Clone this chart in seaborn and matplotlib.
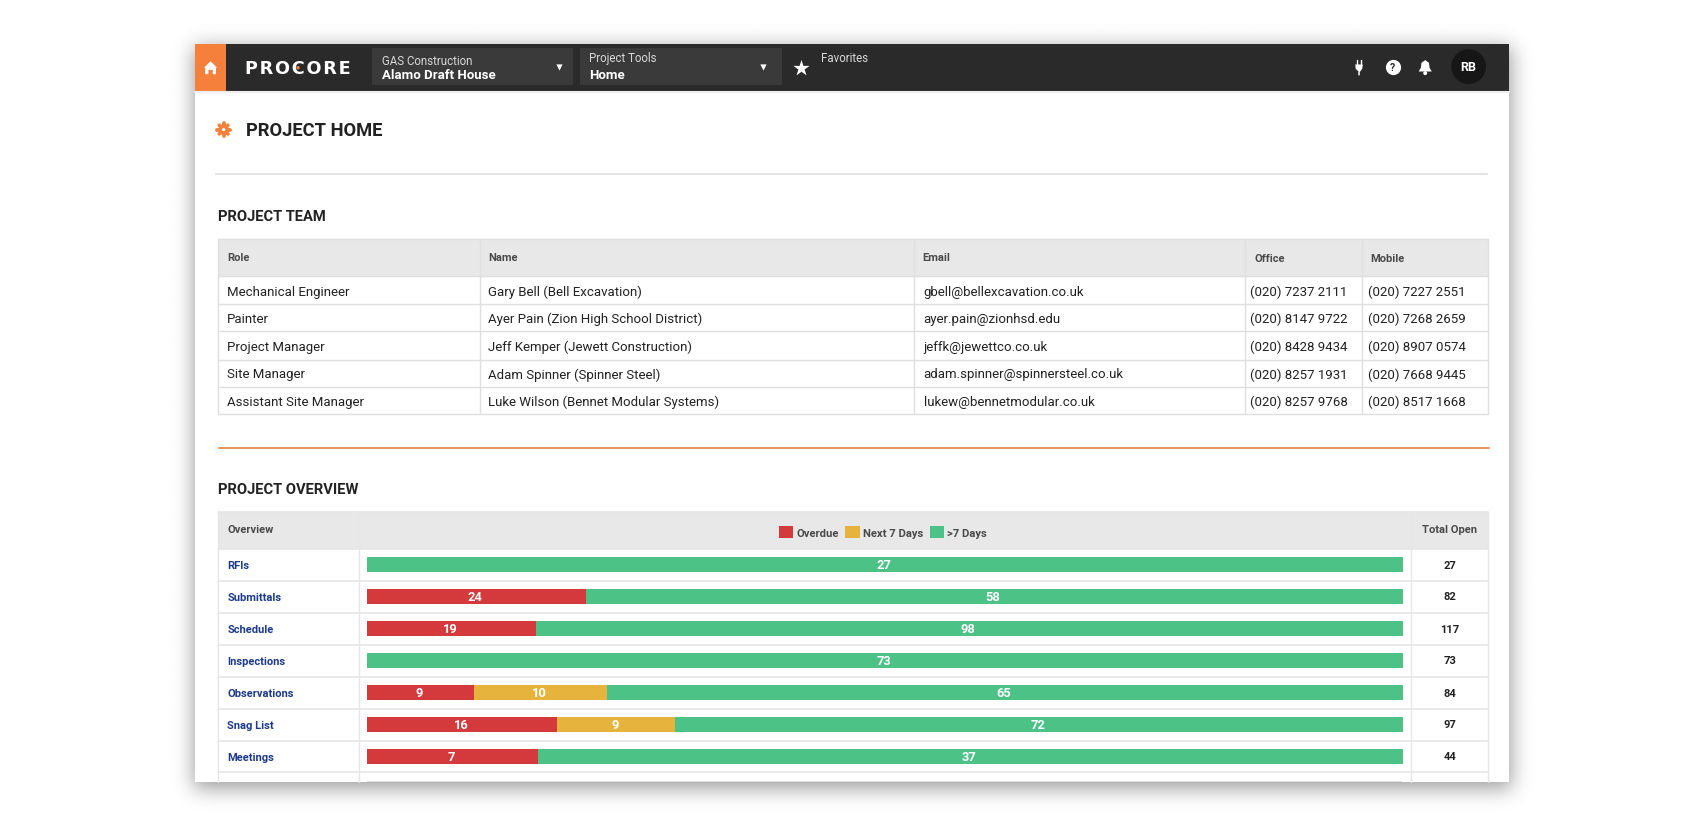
import math
import numpy as np
import pandas as pd
import seaborn as sns
import matplotlib.pyplot as plt
from matplotlib.patches import Rectangle, Circle, Polygon
from matplotlib.lines import Line2D

# team table
team_headers = ["Role", "Name", "Email", "Office", "Mobile"]
team_roles = ["Mechanical Engineer", "Painter", "Project Manager", "Site Manager", "Assistant Site Manager"]
team_names = [
    "Gary Bell (Bell Excavation)",
    "Ayer Pain (Zion High School District)",
    "Jeff Kemper (Jewett Construction)",
    "Adam Spinner (Spinner Steel)",
    "Luke Wilson (Bennet Modular Systems)",
]
team_emails = [
    "gbell@bellexcavation.co.uk",
    "ayer.pain@zionhsd.edu",
    "jeffk@jewettco.co.uk",
    "adam.spinner@spinnersteel.co.uk",
    "lukew@bennetmodular.co.uk",
]
team_office = ["(020) 7237 2111", "(020) 8147 9722", "(020) 8428 9434", "(020) 8257 1931", "(020) 8257 9768"]
team_mobile = ["(020) 7227 2551", "(020) 7268 2659", "(020) 8907 0574", "(020) 7668 9445", "(020) 8517 1668"]

# overview bars: the printed counts and the share of the bar each segment takes
items = ["RFIs", "Submittals", "Schedule", "Inspections", "Observations", "Snag List", "Meetings"]
overdue_count = [0, 24, 19, 0, 9, 16, 7]
next7_count = [0, 0, 0, 0, 10, 9, 0]
later_count = [27, 58, 98, 73, 65, 72, 37]
total_open = [27, 82, 117, 73, 84, 97, 44]
overdue_share = [0, 21.1, 16.3, 0, 10.3, 18.3, 16.5]
next7_share = [0, 0, 0, 0, 12.9, 11.4, 0]
later_share = [100, 78.9, 83.7, 100, 76.8, 70.3, 83.5]

RED = "#d43a3c"
YELLOW = "#e6b43c"
GREEN = "#4cc287"
NAVY = "#1c3a8c"
INK = "#222222"
GRID = "#dfdfdf"
HEAD = "#e8e8e8"
HEAD_TEXT = "#4a4a4a"
ORANGE = "#f4803c"

FONT = "Roboto"
W, H = 1568, 762.8
DY = 1.3  # layout nudge down

sns.set_theme(style="white")
plt.rcParams["font.family"] = [FONT, "DejaVu Sans"]
fig = plt.figure(figsize=(17.02, 8.28), dpi=100, facecolor="white")

bg = fig.add_axes([0, 0, 1, 1])
bg.axis("off")


def put(x, y, s, size=9.5, color=INK, weight="normal", ha="left", **kw):
    bg.text(x, y, s, fontsize=size, color=color, fontweight=weight, ha=ha, va="center", **kw)


def box(x0, y0, x1, y1, color, z=2):
    bg.add_patch(Rectangle((x0, y0), x1 - x0, y1 - y0, fc=color, ec="none", zorder=z))


def rule(x0, x1, y0, y1, color=GRID, lw=1.0, z=3):
    bg.add_line(Line2D([x0, x1], [y0, y1], color=color, lw=lw, zorder=z))


# window drop shadow
erf = np.vectorize(math.erf)
gx = np.arange(0, W, 1.0)
gy = np.arange(0, H, 1.0)
sig = 13.0
sx = 0.5 * (erf((gx - 178) / sig) - erf((gx - 1392) / sig))
sy = 0.5 * (erf((gy - 43) / sig) - erf((gy - 726) / sig))
shadow = 1 - 0.38 * np.outer(sy, sx)
bg.imshow(shadow, extent=(0, W, H, 0), cmap="gray", vmin=0, vmax=1, zorder=0, aspect="auto")
bg.set_xlim(0, W)
bg.set_ylim(H - DY, -DY)

# window and top bar
box(180, 40, 1390, 720, "white", z=1)
box(180, 40, 1390, 83, "#2a2a2a")
box(180, 40, 208, 83, ORANGE, z=3)
rule(180, 1390, 84.5, 84.5, "#eeeeee", 1.5)
bg.add_patch(Polygon([(188, 62), (194, 56), (200, 62), (199, 62), (199, 68), (196, 68), (196, 64),
                      (192, 64), (192, 68), (189, 68), (189, 62)], fc="white", ec="none", zorder=4))
bg.text(226, 62, "P\u200aR\u200aO\u200aC\u200aO\u200aR\u200aE", fontsize=12.7, color="white", fontweight="bold",
        family="DejaVu Sans", va="center", zorder=4)
bg.add_patch(Circle((274.5, 62), 1.6, fc=ORANGE, ec="none", zorder=5))
box(343, 44, 528, 78, "#3a3a3a", z=3)
box(534, 44, 720, 78, "#3a3a3a", z=3)
for x, y, s, size, weight, color in [
    (352, 55.5, "GAS Construction", 8.3, "normal", "#d8d8d8"),
    (352, 68, "Alamo Draft House", 9.5, "bold", "white"),
    (543, 52.5, "Project Tools", 8.3, "normal", "#d8d8d8"),
    (543, 68, "Home", 9.5, "bold", "white"),
    (756, 52.5, "Favorites", 8.3, "normal", "#d8d8d8"),
]:
    bg.text(x, y, s, fontsize=size, fontweight=weight, color=color, va="center", zorder=5)
bg.scatter([515, 703], [61, 61], marker="v", s=20, color="white", zorder=5, linewidths=0)
bg.scatter([1283], [61], marker="o", s=120, color="white", zorder=5, linewidths=0)
bg.scatter([738], [62], marker="*", s=150, color="white", zorder=5, linewidths=0)
bg.text(1283, 61, "?", fontsize=7.5, color="#2a2a2a", ha="center", va="center", fontweight="bold", zorder=6)
bg.add_patch(Polygon([(1252, 66), (1249, 63), (1248.5, 59), (1255.5, 59), (1255, 63), (1252.7, 66), (1252.7, 69),
                      (1251.3, 69), (1251.3, 66)], fc="white", ec="none", zorder=5))
rule(1250, 1250, 55, 59, "white", 1.0, 5)
rule(1254, 1254, 55, 59, "white", 1.0, 5)
bg.add_patch(Polygon([(1307, 65.5), (1309, 62), (1309.5, 57.5), (1313, 55), (1316.5, 57.5), (1317, 62), (1319, 65.5)],
                     fc="white", ec="none", zorder=5))
bg.add_patch(Circle((1313, 67), 1.8, fc="white", ec="none", zorder=5))
bg.add_patch(Circle((1353, 61), 16, fc="#161616", ec="none", zorder=4))
bg.text(1353, 61, "RB", fontsize=9, color="white", ha="center", va="center", fontweight="bold", zorder=5)

# page heading
bg.add_patch(Circle((206, 119), 4.8, fc=ORANGE, ec="none", zorder=4))
rule(206, 206, 113, 125, ORANGE, 2.8, 4)
rule(200, 212, 119, 119, ORANGE, 2.8, 4)
rule(202, 210, 115, 123, ORANGE, 2.6, 4)
rule(202, 210, 123, 115, ORANGE, 2.6, 4)
bg.add_patch(Circle((206, 119), 1.5, fc="white", ec="none", zorder=5))
put(227, 119, "PROJECT HOME", size=13.2, weight="bold")
rule(199, 1370, 160, 160, "#e4e4e4", 1.5)

# project team table
put(201, 199, "PROJECT TEAM", size=10.6, weight="bold")
box(201, 220, 1371, 254, HEAD)
team_cols = [442, 842, 1147, 1255]
team_lines = [254, 280, 305, 331, 356, 381]
for y in [220] + team_lines:
    rule(201, 1371, y, y)
for x in [201] + team_cols + [1371]:
    rule(x, x, 220, 381)
for x, dy, s in zip([209, 450, 850, 1156, 1262], [0, 0, 0, 1, 1], team_headers):
    put(x, 236 + dy, s, size=8.0, color=HEAD_TEXT, weight="bold")
team_y = [268, 293, 319, 344, 369.5]
for x, col in zip([209, 450, 851, 1152, 1260], [team_roles, team_names, team_emails, team_office, team_mobile]):
    for y, s in zip(team_y, col):
        put(x, y, s)
rule(202, 1372, 412, 412, "#e8955f", 1.4)

# project overview table
put(201, 450, "PROJECT OVERVIEW", size=10.6, weight="bold")
box(201, 471, 1371, 505, HEAD)
for y in [471, 505, 535, 564, 594, 623, 653, 682, 711]:
    rule(201, 1371, y, y, "#e6e6e6", 1.2)
for x in [201, 331, 1300, 1371]:
    rule(x, x, 471, 720, "#e6e6e6", 1.0)
box(338, 719.5, 1292, 720, "#dddddd", z=4)
put(210, 487, "Overview", size=8.0, color=HEAD_TEXT, weight="bold")
put(1335.5, 487, "Total Open", size=8.0, color=HEAD_TEXT, weight="bold", ha="center")
row_y = [520, 549, 579, 608, 638, 667, 696]
for y, t in zip(row_y, total_open):
    put(1336, y, str(t), size=8, weight="bold", ha="center")

# stacked bars, layered back to front
ax_x0, ax_x1, ax_y0, ax_y1 = 338.3, 1292.3, 505 + DY, 720 + DY
ax = fig.add_axes([ax_x0 / W, 1 - ax_y1 / H, (ax_x1 - ax_x0) / W, (ax_y1 - ax_y0) / H])
ax.patch.set_alpha(0)
df = pd.DataFrame({"item": items, "overdue": overdue_share, "next7": next7_share, "later": later_share})
df["to_next7"] = df["overdue"] + df["next7"]
df["to_later"] = df["to_next7"] + df["later"]
for col, color, name in [("to_later", GREEN, ">7 Days"), ("to_next7", YELLOW, "Next 7 Days"), ("overdue", RED, "Overdue")]:
    sns.barplot(data=df, y="item", x=col, color=color, saturation=1, width=0.45, label=name, ax=ax, orient="h",
                linewidth=0)

for i in range(len(items)):
    left = 0
    for share, count in zip((overdue_share[i], next7_share[i], later_share[i]),
                            (overdue_count[i], next7_count[i], later_count[i])):
        if count:
            ax.text(left + share / 2 - 0.1, i, str(count), color="white", fontsize=9.3, fontweight="bold",
                    ha="center", va="center")
        left += share

ax.set_xlim(0, 100)
ax.set_ylim(6.8, -0.495)
ax.set_xlabel("")
ax.set_ylabel("")
ax.set_xticks([])
sns.despine(ax=ax, left=True, bottom=True)
ax.grid(False)
ax.tick_params(axis="y", length=0, pad=(ax_x0 - 209.5) * 1702 / W * 0.72)
for lab in ax.get_yticklabels():
    lab.set_ha("left")
    lab.set_color(NAVY)
    lab.set_fontweight("bold")
    lab.set_fontsize(8)

handles, labels = ax.get_legend_handles_labels()
leg = ax.legend(handles[::-1], labels[::-1], ncol=3, frameon=False, loc="center", bbox_to_anchor=(0.498, 1.072),
                prop={"family": FONT, "size": 8.1, "weight": "bold"}, handlelength=1.3, handleheight=1.3,
                handletextpad=0.25, columnspacing=0.6, borderpad=0)
for t in leg.get_texts():
    t.set_color(HEAD_TEXT)

fig.savefig("out.png", dpi=100)
